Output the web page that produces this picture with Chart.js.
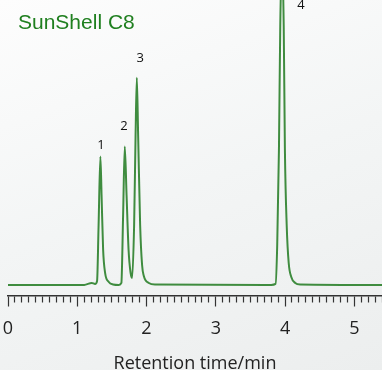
<!DOCTYPE html>
<html>
<head>
<meta charset="utf-8">
<script src="https://cdn.jsdelivr.net/npm/chart.js@4.4.0/dist/chart.umd.min.js"></script>
<style>
    html, body { margin: 0; padding: 0; }
    body {
        width: 382px; height: 370px; overflow: hidden;
        background: linear-gradient(160deg, #fdfdfd 0%, #f3f5f5 50%, #eceeee 100%);
    }
    #wrap { position: relative; width: 382px; height: 370px; }
    #title {
        position: absolute; left: 18px; top: 10px;
        font-family: "Liberation Sans", Arial, sans-serif; font-size: 21px;
        color: #1f7f1f; white-space: nowrap;
    }
    canvas { position: absolute; left: 0; top: 0; }
</style>
</head>
<body>
<div id="wrap">
    <canvas id="chromChart" width="382" height="370"></canvas>
    <div id="title">SunShell C8</div>
</div>
<script>
// --- Datos del cromatograma (tiempo en min, señal en unidades arbitrarias) ---
const retentionTimes = [0, 1.10, 1.21, 1.257, 1.286, 1.308, 1.334, 1.351, 1.373, 1.402, 1.455, 1.517,
    1.60, 1.637, 1.662, 1.686, 1.712, 1.741, 1.77, 1.792, 1.821, 1.842, 1.860, 1.879, 1.908, 1.936, 1.961,
    2.033, 2.124, 3.80, 3.863, 3.887, 3.912, 3.931, 3.955, 3.981, 3.998, 4.024, 4.053, 4.09, 4.147, 4.22, 5.4];
const signal = [0, 0, 2, 1, 4, 60, 129, 90, 36, 12, 3, 0.5,
    0, 2, 70, 139, 90, 35, 12, 7, 60, 150, 208, 150, 60, 20, 9,
    2, 0.5, 0, 1, 40, 136, 260, 330, 260, 136, 60, 22, 8, 2, 0.5, 0];

// Etiquetas de los picos
const peakNames = ['1', '2', '3', '4'];
const peakLabelTimes = [1.344, 1.676, 1.908, 4.23];
const peakLabelLevels = [140, 159, 227, 281];

const xTickLabels = ['0', '1', '2', '3', '4', '5'];

const lineColor = '#3f8c3f';

// Plugin para dibujar los números de los picos
const peakLabelPlugin = {
    id: 'peakLabels',
    afterDatasetsDraw(chart) {
        const { ctx, scales: { x, y } } = chart;
        ctx.save();
        ctx.font = '13px "Open Sans", sans-serif';
        ctx.fillStyle = '#111';
        ctx.textAlign = 'center';
        ctx.textBaseline = 'middle';
        peakNames.forEach((name, i) => {
            ctx.fillText(name, x.getPixelForValue(peakLabelTimes[i]), y.getPixelForValue(peakLabelLevels[i]));
        });
        ctx.restore();
    }
};

const isMajor = (v) => Math.abs(v - Math.round(v)) < 1e-6;

function createChromChart(ctx) {
    new Chart(ctx, {
        type: 'line',
        data: {
            datasets: [{
                data: retentionTimes.map((t, i) => ({ x: t, y: signal[i] })),
                borderColor: lineColor,
                borderWidth: 2,
                pointRadius: 0,
                fill: false,
                cubicInterpolationMode: 'monotone'
            }]
        },
        options: {
            responsive: false,
            animation: false,
            devicePixelRatio: 1,
            layout: { padding: { left: 8, right: 0, top: 0, bottom: 0 } },
            scales: {
                x: {
                    type: 'linear',
                    min: 0,
                    max: 5.4,
                    border: { display: true, color: '#333', width: 1.5 },
                    grid: {
                        drawOnChartArea: false,
                        drawTicks: true,
                        // marcas largas: el guion recorta la marca (mayor 10px, menor 6px)
                        tickLength: 23,
                        tickColor: '#333',
                        tickWidth: 1.2,
                        tickBorderDash: (c) => {
                            const v = c.tick ? c.tick.value : 0;
                            return isMajor(v) ? [10, 40] : [6, 40];
                        }
                    },
                    ticks: {
                        stepSize: 0.1,
                        maxTicksLimit: 100,
                        autoSkip: false,
                        maxRotation: 0,
                        padding: 0,
                        color: '#222',
                        font: { family: '"Open Sans", sans-serif', size: 18 },
                        callback: (v) => {
                            const r = Math.round(v);
                            return isMajor(v) && xTickLabels[r] !== undefined ? xTickLabels[r] : '';
                        }
                    },
                    title: {
                        display: true,
                        text: 'Retention time/min',
                        color: '#222',
                        font: { family: '"Open Sans", sans-serif', size: 18, lineHeight: 0.7 },
                        padding: { top: 17.4, bottom: 0 }
                    }
                },
                y: {
                    display: false,
                    min: -10.5,
                    max: 286
                }
            },
            plugins: {
                legend: { display: false },
                tooltip: { enabled: false }
            }
        },
        plugins: [peakLabelPlugin]
    });
}

createChromChart(document.getElementById('chromChart').getContext('2d'));
</script>
</body>
</html>
